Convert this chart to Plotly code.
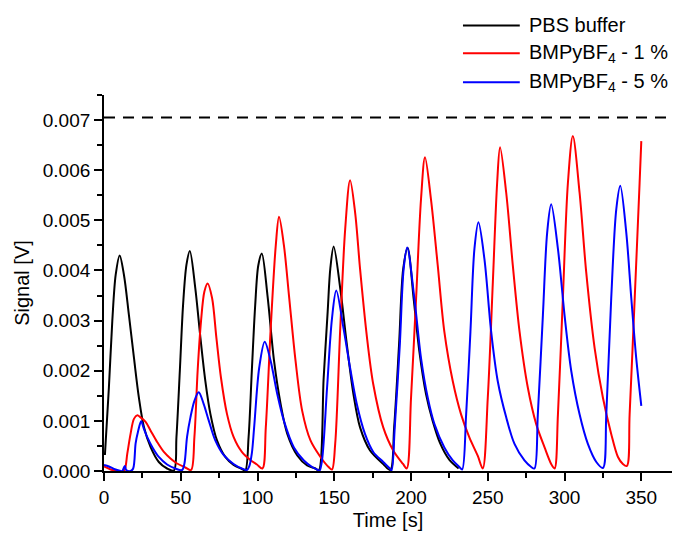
import plotly.graph_objects as go

# PBS buffer signal
pbs_t = [0.6, 3.2, 5.4, 7.6, 10.2, 13.0, 16.2, 19.5, 22.7, 26.0, 30.3, 35.7, 41.1, 45.5,
         47.2, 49.4, 51.5, 53.7, 55.9, 59.5, 62.8, 66.0, 69.3, 73.6, 79.0, 84.4, 89.8, 92.0,
         94.2, 96.3, 98.5, 100.5, 102.8, 106.5, 110.8, 115.1, 119.4, 125.9, 132.3, 137.7, 139.9,
         143.1, 145.7, 147.4, 149.6, 153.9, 158.2, 162.5, 166.8, 173.3, 181.9, 186.5,
         189.0, 192.2, 194.9, 197.8, 201.7, 205.4, 209.8, 214.1, 219.0, 225.0, 231.0]
pbs_v = [0.00032, 0.00167, 0.00299, 0.00391, 0.00430, 0.00391, 0.00312, 0.00226, 0.00147, 0.00088, 0.00048, 0.00018, 0.00005, 0.00001,
         0.00068, 0.00200, 0.00331, 0.00411, 0.00439, 0.00364, 0.00266, 0.00180, 0.00114, 0.00061, 0.00028, 0.00012, 0.00004, 0.00001,
         0.00068, 0.00200, 0.00331, 0.00410, 0.00434, 0.00350, 0.00219, 0.00133, 0.00074, 0.00031, 0.00011, 0.00005, 0.00001,
         0.00186, 0.00318, 0.00403, 0.00448, 0.00364, 0.00252, 0.00153, 0.00087, 0.00041, 0.00014, 0.00002,
         0.00087, 0.00252, 0.00403, 0.00445, 0.00344, 0.00239, 0.00153, 0.00100, 0.00055, 0.00022, 0.00005]

# BMPyBF4 - 1 %
il1_t = [0.0, 4.3, 8.7, 11.3, 13.4, 15.2, 17.3, 19.5, 21.7, 23.8, 27.1, 30.3, 34.6, 39.0, 43.3, 47.6, 53.0, 56.7,
         58.9, 61.0, 63.2, 65.4, 67.5, 70.4, 73.2, 76.2, 80.1, 84.4, 89.8, 95.3, 99.6, 103.2,
         105.4, 108.6, 111.9, 114.0, 117.2, 120.5, 124.8, 129.1, 134.5, 141.0, 146.3, 148.5,
         150.6, 153.9, 157.1, 160.3, 163.6, 166.8, 171.1, 175.4, 181.9, 188.4, 194.8, 197.2,
         200.0, 203.3, 206.5, 209.1, 213.0, 217.4, 221.7, 227.2, 232.6, 238.0, 243.5, 246.7,
         250.0, 253.3, 256.1, 258.0, 262.0, 266.3, 270.7, 276.1, 281.5, 287.0, 291.3, 293.5,
         295.7, 298.9, 302.2, 305.4, 309.8, 314.1, 319.6, 325.0, 330.4, 334.8, 338.0, 340.6,
         342.4, 345.7, 348.9, 350.0]
il1_v = [0.00009, 0.00003, -0.00001, -0.00003, 0.00002, 0.00035, 0.00074, 0.00104, 0.00111, 0.00107, 0.00098, 0.00081, 0.00058, 0.00038, 0.00025, 0.00015, 0.00007, 0.00002,
         0.00068, 0.00200, 0.00299, 0.00358, 0.00374, 0.00345, 0.00266, 0.00186, 0.00114, 0.00068, 0.00038, 0.00022, 0.00013, 0.00005,
         0.00087, 0.00285, 0.00450, 0.00507, 0.00450, 0.00350, 0.00219, 0.00120, 0.00061, 0.00028, 0.00008, 0.00003,
         0.00054, 0.00285, 0.00482, 0.00580, 0.00515, 0.00403, 0.00272, 0.00173, 0.00087, 0.00041, 0.00014, 0.00005,
         0.00146, 0.00344, 0.00542, 0.00626, 0.00542, 0.00410, 0.00278, 0.00179, 0.00113, 0.00067, 0.00030, 0.00005,
         0.00146, 0.00377, 0.00575, 0.00646, 0.00555, 0.00410, 0.00278, 0.00166, 0.00094, 0.00047, 0.00014, 0.00005,
         0.00113, 0.00344, 0.00575, 0.00668, 0.00555, 0.00397, 0.00245, 0.00146, 0.00074, 0.00028, 0.00014, 0.00010,
         0.00113, 0.00344, 0.00575, 0.00658]

# BMPyBF4 - 5 %
il5_t = [0.0, 3.2, 6.5, 9.7, 11.9, 13.0, 13.6, 14.5, 17.3, 19.0, 20.6, 22.1, 24.2, 26.0, 28.1, 31.4, 35.7, 41.1, 46.5, 50.9,
         52.4, 54.1, 56.3, 58.9, 61.7, 64.9, 68.2, 72.5, 77.9, 84.4, 89.8, 93.1,
         94.6, 96.3, 97.8, 101.1, 104.7, 108.6, 112.9, 117.2, 123.7, 130.2, 135.6, 138.8, 140.3,
         142.0, 145.3, 148.5, 151.3, 156.0, 160.3, 164.7, 170.0, 175.4, 181.9, 186.2, 187.3,
         189.4, 192.7, 195.2, 197.5, 202.2, 206.5, 210.9, 215.2, 221.7, 227.2, 231.5, 233.3,
         235.9, 238.7, 241.3, 243.9, 247.8, 252.2, 256.5, 262.0, 267.4, 273.9, 278.3, 280.4,
         282.6, 285.9, 288.7, 291.3, 295.7, 300.0, 304.4, 309.8, 315.2, 320.7, 325.0,
         327.2, 330.4, 333.7, 336.3, 340.2, 343.5, 346.7, 350.0]
il5_v = [0.00012, 0.00009, 0.00004, 0.00001, 0.00000, 0.00007, 0.00010, 0.00002, 0.00000, 0.00005, 0.00055, 0.00078, 0.00099, 0.00084, 0.00068, 0.00048, 0.00028, 0.00013, 0.00005, 0.00002,
         0.00015, 0.00068, 0.00107, 0.00140, 0.00157, 0.00134, 0.00101, 0.00061, 0.00032, 0.00014, 0.00005, 0.00002,
         0.00009, 0.00035, 0.00087, 0.00206, 0.00258, 0.00219, 0.00153, 0.00100, 0.00047, 0.00021, 0.00008, 0.00003, 0.00000,
         0.00021, 0.00166, 0.00304, 0.00360, 0.00285, 0.00206, 0.00133, 0.00074, 0.00038, 0.00018, 0.00005, 0.00001,
         0.00087, 0.00252, 0.00403, 0.00446, 0.00344, 0.00225, 0.00146, 0.00094, 0.00047, 0.00021, 0.00008, 0.00003,
         0.00113, 0.00278, 0.00443, 0.00496, 0.00423, 0.00278, 0.00179, 0.00107, 0.00054, 0.00021, 0.00008, 0.00005,
         0.00113, 0.00311, 0.00476, 0.00532, 0.00443, 0.00311, 0.00199, 0.00113, 0.00054, 0.00018, 0.00006,
         0.00113, 0.00344, 0.00522, 0.00569, 0.00476, 0.00344, 0.00225, 0.00130]

threshold = 0.00705

series = [
    ("PBS buffer", pbs_t, pbs_v, "#000000"),
    ("BMPyBF<sub>4</sub> - 1 %", il1_t, il1_v, "#ff0000"),
    ("BMPyBF<sub>4</sub> - 5 %", il5_t, il5_v, "#0000ff"),
]

FONT = "Liberation Sans, Arial, sans-serif"

fig = go.Figure()
for name, t, v, color in series:
    fig.add_trace(go.Scatter(
        x=t, y=v, name=name, mode="lines",
        line=dict(color=color, width=2, shape="spline", smoothing=0.9),
        showlegend=False,
    ))

# dashed reference level across the whole plot width
fig.add_shape(type="line", xref="paper", yref="y", x0=0, x1=1,
              y0=threshold, y1=threshold,
              line=dict(color="black", width=2, dash="11px,8px"))

# legend block above the plot, top right
legend_rows = [1.185, 1.111, 1.034]
for (name, _, _, color), ly in zip(series, legend_rows):
    fig.add_shape(type="line", xref="paper", yref="paper",
                  x0=0.632, x1=0.732, y0=ly, y1=ly,
                  line=dict(color=color, width=2))
    fig.add_annotation(xref="paper", yref="paper", x=0.745, y=ly,
                       text=name, showarrow=False, xanchor="left", yanchor="middle",
                       font=dict(family=FONT, size=20, color="black"))

axis_common = dict(
    showline=True, linecolor="black", linewidth=1.8, mirror=False,
    showgrid=False, zeroline=False,
    ticks="outside", ticklen=8, tickwidth=1.5, tickcolor="black",
    tickfont=dict(family=FONT, size=19, color="black"),
)

fig.update_layout(
    width=678, height=534,
    margin=dict(l=104, r=6, t=95, b=60),
    paper_bgcolor="white", plot_bgcolor="white",
    font=dict(family=FONT, color="black"),
    xaxis=dict(range=[0, 370], tick0=0, dtick=50,
               minor=dict(dtick=25, ticks="outside", ticklen=5, tickwidth=1.5, tickcolor="black"),
               title=dict(text="Time [s]", font=dict(family=FONT, size=20), standoff=6),
               **axis_common),
    yaxis=dict(range=[0, 0.0075], tick0=0, dtick=0.001, tickformat=".3f",
               minor=dict(dtick=0.0005, ticks="outside", ticklen=5, tickwidth=1.5, tickcolor="black"),
               title=dict(text="Signal [V]", font=dict(family=FONT, size=20), standoff=8),
               **axis_common),
)

fig.write_html("out.html")
